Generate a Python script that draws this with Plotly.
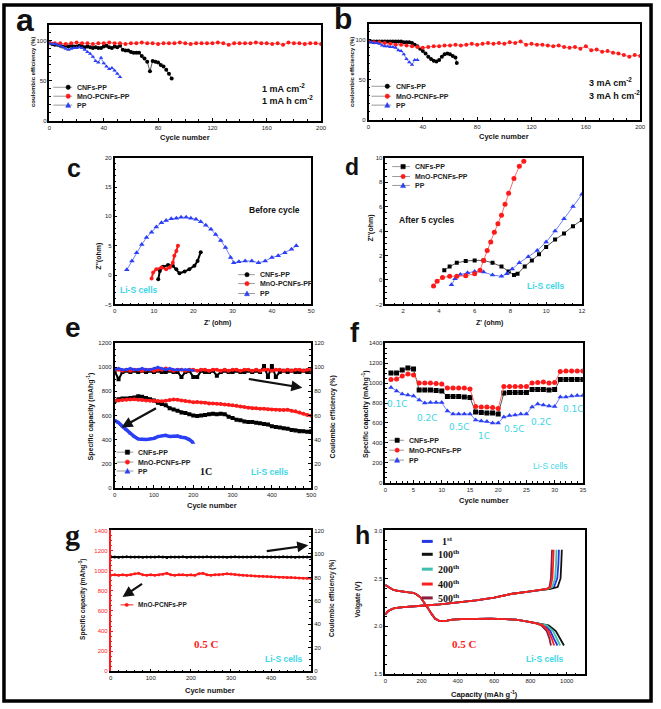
import plotly.graph_objects as go

W, H = 661, 709
def X(p): return p / W
def Y(p): return 1 - p / H

# ---------------- DATA ----------------
# panel a (1 mA cm-2)
a_cnf_cyc = list(range(0, 91, 2))
a_cnf_ce = [97,96,95,95,94,93,94,93,94,93, 93,94,93,92,93,92,91,92,91,91,
            93,94,92,91,93,92,94,89,88,88, 86,85,85,85,81,78,74,62,75,74,
            73,70,68,64,59,53]
a_mno_cyc = list(range(0, 201, 4))
a_mno_ce = [98,97,97,96,97,98,97,97,96,97, 97,98,97,97,96,97,97,98,97,97,
            96,97,97,97,98,97,96,97,97,97, 97,98,97,95,97,97,97,97,98,97,
            97,96,97,95,98,97,97,96,97,97, 96]
a_pp_cyc = list(range(0, 53, 2))
a_pp_ce = [97,96,96,95,94,92,90,89,90,91, 91,92,91,89,86,84,80,75,73,79,
           72,68,65,66,63,59,55]

# panel b (3 mA cm-2)
b_cnf_cyc = list(range(0, 65, 2)) + [65]
b_cnf_ce = [98,98,98,98,98,98,98,98,98,98, 98,98,98,97,97,97,96,94,92,89,
            86,83,79,76,74,73,75,79,82,83, 82,80,78,71]
b_mno_cyc = list(range(0, 201, 4))
b_mno_ce = [98,97,97,96,95,94,94,93,92,91, 90,91,92,92,93,93,94,93,94,95,
            94,95,96,95,96,95,97,96,98,94, 95,94,94,93,92,93,91,90,91,89,
            92,87,88,85,86,84,83,81,79,81, 80]
b_pp_cyc = list(range(0, 37, 2))
b_pp_ce = [97,97,96,96,95,93,92,92,91,91, 90,87,86,82,76,72,69,75,75]

# panel c (EIS before cycle)
c_pp_re = [3.1,4.4,5.6,6.9,8.1,9.4,10.6,11.9,13.1,14.4,15.7,16.9,18.2,19.4,20.7,21.9,
           23.2,24.5,25.7,27.0,28.2,29.5,30.3,31.6,33.2,34.9,36.6,38.3,40.0,41.6,43.3,45.0,46.2]
c_pp_im = [0.9,2.4,3.8,5.2,6.4,7.3,8.2,8.9,9.3,9.6,9.7,9.85,9.85,9.7,9.5,9.1,
           8.5,7.8,6.9,5.9,4.7,3.0,2.1,2.25,2.4,2.4,2.1,2.4,3.0,3.3,3.8,4.4,5.0]
c_cnf_re = [11.1,11.5,12.3,13.6,14.8,15.7,16.5,17.8,19.0,20.3,21.1,21.9]
c_cnf_im = [-0.7,0.7,1.4,1.7,1.6,1.0,0.3,0.6,1.0,1.6,2.4,3.9]
c_mno_re = [9.4,9.8,10.6,11.9,13.1,14.0,14.8,15.2,15.7,16.1]
c_mno_im = [-0.6,0.45,1.0,1.3,1.0,1.3,2.1,3.3,4.1,5.0]

# panel d (EIS after 5 cycles)
d_cnf_re = [4.3,4.6,5.0,5.5,6.0,6.5,7.0,7.5,7.9,8.2,8.4,8.8,9.2,9.6,10.0,10.5,11.0,11.5,12.0]
d_cnf_im = [0.8,1.1,1.4,1.55,1.6,1.6,1.4,1.1,0.7,0.4,0.5,1.1,1.6,2.1,2.7,3.3,3.8,4.4,4.9]
d_mno_re = [3.7,3.9,4.2,4.6,5.0,5.5,6.0,6.3,6.5,6.7,6.9,7.1,7.3,7.5,7.7,7.9,8.2,8.5,8.75]
d_mno_im = [-0.5,-0.1,0.2,0.3,0.3,0.35,0.5,0.8,1.6,2.4,3.1,3.9,4.6,5.3,6.2,7.1,8.3,9.3,9.7]
d_pp_re = [4.7,4.9,5.2,5.6,6.0,6.5,7.0,7.5,7.8,8.1,8.5,9.0,9.5,10.0,10.5,11.0,11.5,12.0]
d_pp_im = [-0.4,0.1,0.45,0.6,0.7,0.65,0.4,0.3,0.5,0.9,1.4,1.9,2.4,3.1,4.0,5.0,6.0,7.0]

# panel e (1C cycling)
e_cyc = list(range(0, 501, 10))
e_cnf_cap = [720,735,740,740,745,750,760,755,745,735, 725,705,695,685,660,650,640,625,620,610,
             600,595,600,605,610,615,610,615,610,590, 580,565,560,550,545,545,540,535,530,525,
             510,505,500,495,490,480,475,470,470,465, 470]
e_mno_cap = [725,725,728,730,732,735,730,728,725,722, 720,720,718,722,728,732,730,725,720,715,
             710,712,708,705,700,700,697,695,692,688, 684,680,675,670,665,660,660,655,655,652,
             650,648,645,645,648,640,635,625,615,605, 598]
e_pp_cyc = list(range(0, 201, 10))
e_pp_cap = [560,540,510,480,450,425,405,400,400,405,410,425,430,435,425,425,430,420,415,400,375]
e_cnf_ce = [97,90,96,97,96,97,96,97,96,97, 96,97,96,96,97,96,96,92,96,97,
            92,92,97,96,96,97,93,96,97,96, 96,97,96,96,97,96,97,96,101,92,
            101,92,96,97,96,97,96,96,97,96, 97]
e_mno_ce = [98,98,97,98,97,98,98,97,98,98, 97,98,98,99,98,97,98,98,97,98,
            98,97,98,98,97,98,98,97,98,97, 98,98,97,98,98,97,98,97,98,98,
            97,98,98,97,98,97,98,98,97,98, 98]
e_pp_ce = [98,99,98,98,99,98,98,99,98,98,99,100,99,98,99,98,98,98,98,98,97]

# panel f (rate capability)
f_cyc = list(range(1, 36))
f_cnf = [1100,1100,1130,1150,1140, 930,930,930,925,920, 865,865,865,860,855,
         710,705,700,700,690, 900,905,905,905,905, 935,935,935,930,935,
         1035,1035,1035,1035,1035]
f_mno = [1035,1040,1070,1090,1080, 1000,1000,1000,995,990, 950,950,950,950,940,
         765,760,760,755,745, 965,965,965,965,965, 1000,1005,1010,1000,1005,
         1115,1120,1120,1120,1120]
f_pp = [955,920,890,880,870, 830,800,805,805,805, 720,690,690,690,690,
        630,620,615,600,600, 660,675,680,690,690, 760,790,780,770,765,
        860,860,870,875,875]
f_rate_labels = ["0.1C", "0.2C", "0.5C", "1C", "0.5C", "0.2C", "0.1C"]
f_rate_x = [2.2, 7.4, 13.2, 17.4, 22.9, 27.7, 33.3]
f_rate_y = [793, 654, 564, 471, 544, 614, 743]

# panel g (0.5C long cycling)
g_cyc = list(range(0, 501, 10))
g_mno_cap = [955,960,955,960,955,960,970,975,960,955, 960,955,960,965,975,960,955,960,960,955,
             960,955,970,975,960,955,960,960,965,970, 968,962,958,955,952,950,948,946,944,942,
             940,938,936,935,933,932,930,928,926,925, 922]
g_ce = [97.5,97.5,97.3,97.5,97.6,97.4,97.5,97.5,97.3,97.5, 97.5,97.4,97.6,97.5,97.0,97.5,97.4,97.5,97.6,97.3,
        97.5,97.5,97.4,97.5,97.6,97.5,97.4,97.5,97.5,97.3, 97.5,97.6,97.5,97.4,97.5,97.5,97.6,97.4,97.5,97.5,
        97.5,97.4,97.5,97.6,97.5,97.5,97.3,97.5,97.5,97.4, 97.5]

# panel h (charge/discharge profiles)
h_dis_cap = [0,10,25,45,70,100,130,155,175,195,215,235,255,275,295,315,340,370,420,500,580,660,720,770,800]
h_dis_v = [2.43,2.42,2.40,2.38,2.37,2.36,2.355,2.35,2.33,2.30,2.25,2.19,2.13,2.08,2.06,2.055,2.06,2.07,
           2.075,2.08,2.08,2.075,2.07,2.055,2.045]
h_chg_cap = [0,10,25,50,100,150,200,300,400,500,600,700,780,840,870]
h_chg_v = [2.12,2.15,2.17,2.19,2.20,2.21,2.215,2.23,2.25,2.27,2.30,2.34,2.36,2.375,2.38]
h_tail_dis_v = [2.03,2.01,1.95,1.87,1.80]
h_tail_chg_v = [2.39,2.41,2.50,2.65,2.80]
h_cycles = ["1", "100", "200", "500", "400"]
h_tail_dis_cap = {"1": [840,880,910,930,949], "100": [850,900,940,965,985],
                  "200": [845,890,925,948,964], "400": [835,870,900,918,931],
                  "500": [830,860,890,905,913]}
h_tail_chg_cap = {"1": [900,930,948,954,957], "100": [910,950,966,970,973],
                  "200": [895,920,936,941,944], "400": [890,910,921,925,928],
                  "500": [888,905,913,916,919]}
h_colors = {"1": "#2437e0", "100": "#111111", "200": "#3fbfae", "400": "#ff1f1f", "500": "#8a1e3c"}
h_legend = [("1", "st"), ("100", "th"), ("200", "th"), ("400", "th"), ("500", "th")]

# ---------------- STYLE ----------------
FONT = "Liberation Sans"
SERIF = "Liberation Serif"
BLACK, RED, BLUE = "#000000", "#ff1a1a", "#2b3ff5"
LBLACK, LRED, LBLUE = "#555555", "#ff6a6a", "#6f80ff"
CYAN = "#3fd6e6"

fig = go.Figure()

def sc(x, y, color, symbol, xa, ya, size=4, lw=1, lc=None):
    fig.add_trace(go.Scatter(x=x, y=y, mode="lines+markers",
                             marker=dict(color=color, symbol=symbol, size=size, line=dict(width=0)),
                             line=dict(color=lc or color, width=lw),
                             xaxis=xa, yaxis=ya, showlegend=False, hoverinfo="skip"))

# a
sc(a_cnf_cyc, a_cnf_ce, BLACK, "circle", "x", "y", 4, 1, LBLACK)
sc(a_mno_cyc, a_mno_ce, RED, "circle", "x", "y", 4, 1, LRED)
sc(a_pp_cyc, a_pp_ce, BLUE, "triangle-up", "x", "y", 4, 1, LBLUE)
# b
sc(b_cnf_cyc, b_cnf_ce, BLACK, "circle", "x2", "y2", 4, 1, LBLACK)
sc(b_mno_cyc, b_mno_ce, RED, "circle", "x2", "y2", 4, 1, LRED)
sc(b_pp_cyc, b_pp_ce, BLUE, "triangle-up", "x2", "y2", 4, 1, LBLUE)
# c
sc(c_pp_re, c_pp_im, BLUE, "triangle-up", "x3", "y3", 5, 1, LBLUE)
sc(c_cnf_re, c_cnf_im, BLACK, "circle", "x3", "y3", 4, 2, BLACK)
sc(c_mno_re, c_mno_im, RED, "circle", "x3", "y3", 4, 2, RED)
# d
sc(d_cnf_re, d_cnf_im, BLACK, "square", "x4", "y4", 4, 1, LBLACK)
sc(d_pp_re, d_pp_im, BLUE, "triangle-up", "x4", "y4", 5, 1, LBLUE)
sc(d_mno_re, d_mno_im, RED, "circle", "x4", "y4", 5, 1, LRED)
# e
sc(e_cyc, e_cnf_ce, BLACK, "square", "x5", "y6", 4, 2, BLACK)
sc(e_cyc, e_mno_ce, RED, "circle", "x5", "y6", 4, 2.5, RED)
sc(e_pp_cyc, e_pp_ce, BLUE, "triangle-up", "x5", "y6", 4, 2.5, BLUE)
sc(e_cyc, e_cnf_cap, BLACK, "square", "x5", "y5", 4, 2.5, BLACK)
sc(e_cyc, e_mno_cap, RED, "circle", "x5", "y5", 4, 2.5, RED)
sc(e_pp_cyc, e_pp_cap, BLUE, "triangle-up", "x5", "y5", 4, 3.5, BLUE)
# f
sc(f_cyc, f_cnf, BLACK, "square", "x6", "y7", 5, 1, LBLACK)
sc(f_cyc, f_mno, RED, "circle", "x6", "y7", 5, 1, LRED)
sc(f_cyc, f_pp, BLUE, "triangle-up", "x6", "y7", 5, 1, LBLUE)
# g
sc(g_cyc, g_ce, BLACK, "circle", "x7", "y9", 3, 2, BLACK)
sc(g_cyc, g_mno_cap, RED, "circle", "x7", "y8", 3, 2, RED)
# h
for cy in h_cycles:
    xs = h_dis_cap + h_tail_dis_cap[cy] + [None] + h_chg_cap + h_tail_chg_cap[cy]
    ys = h_dis_v + h_tail_dis_v + [None] + h_chg_v + h_tail_chg_v
    fig.add_trace(go.Scatter(x=xs, y=ys, mode="lines", line=dict(color=h_colors[cy], width=1.8),
                             xaxis="x8", yaxis="y10", showlegend=False, hoverinfo="skip"))

# ---------------- AXES ----------------
def axis(dom, rng, dtick, anchor, tickvals=None, color="black", mirror=True, fmt=None, **kw):
    d = dict(domain=dom, range=rng, dtick=dtick, anchor=anchor, showline=True, linecolor=color,
             linewidth=1.5, mirror=mirror, ticks="inside", ticklen=3, tickcolor=color, tickwidth=1,
             showgrid=False, zeroline=False, tickfont=dict(size=6, family=FONT, color="#222" if color == "black" else color),
             minor=dict(ticks="inside", ticklen=2, tickcolor=color))
    if tickvals is not None:
        d["tickvals"] = tickvals
    if fmt:
        d["tickformat"] = fmt
    d.update(kw)
    return d

def xd(a, b): return [X(a), X(b)]
def yd(top, bot): return [Y(bot), Y(top)]

layout = dict(
    width=W, height=H, margin=dict(l=0, r=0, t=0, b=0),
    paper_bgcolor="white", plot_bgcolor="white",
    xaxis=axis(xd(48, 323), [0, 200], 40, "y"),
    yaxis=axis(yd(22, 119), [0, 120], 50, "x"),
    xaxis2=axis(xd(371, 646), [0, 200], 40, "y2"),
    yaxis2=axis(yd(21, 118), [0, 120], 50, "x2"),
    xaxis3=axis(xd(114, 313), [0, 50], 10, "y3"),
    yaxis3=axis(yd(156, 304), [-5, 20], 5, "x3"),
    xaxis4=axis(xd(388, 587), [1, 12], 2, "y4", tickvals=[2, 4, 6, 8, 10, 12]),
    yaxis4=axis(yd(156, 304), [-2, 10], 2, "x4"),
    xaxis5=axis(xd(114, 313), [0, 500], 100, "y5"),
    yaxis5=axis(yd(343, 489), [0, 1200], 200, "x5"),
    yaxis6=axis(yd(343, 489), [0, 120], 20, "x5", overlaying="y5", side="right", mirror=False),
    xaxis6=axis(xd(388, 588), [0, 35], 5, "y7"),
    yaxis7=axis(yd(343, 484), [0, 1400], 200, "x6"),
    xaxis7=axis(xd(110, 313), [0, 500], 100, "y8"),
    yaxis8=axis(yd(532, 674), [0, 1400], 200, "x7", color=RED, mirror=False),
    yaxis9=axis(yd(532, 674), [0, 120], 20, "x7", overlaying="y8", side="right", mirror=False),
    xaxis8=axis(xd(388, 590), [0, 1100], 200, "y10", tickvals=[0, 200, 400, 600, 800, 1000]),
    yaxis10=axis(yd(532, 677), [1.5, 3.0], 0.5, "x8", fmt=".1f"),
)

shapes = []
ann = []

def txt(s, x, y, size=7, color="#111", family=FONT, xanchor="center", angle=0, bold=True, yanchor="middle"):
    ann.append(dict(text=("<b>%s</b>" % s) if bold else s, x=X(x), y=Y(y), xref="paper", yref="paper",
                    showarrow=False, xanchor=xanchor, yanchor=yanchor, textangle=angle,
                    font=dict(size=size, color=color, family=family)))

def leg(x0, x1, xm, y, color, sym, label, size=7, r=2.2):
    shapes.append(dict(type="line", xref="paper", yref="paper", x0=X(x0), x1=X(x1), y0=Y(y), y1=Y(y),
                       line=dict(color="#9a9a9a", width=1)))
    if sym == "circle":
        shapes.append(dict(type="circle", xref="paper", yref="paper", x0=X(xm - r), x1=X(xm + r),
                           y0=Y(y + r), y1=Y(y - r), fillcolor=color, line=dict(color=color, width=0.5)))
    elif sym == "square":
        shapes.append(dict(type="rect", xref="paper", yref="paper", x0=X(xm - r), x1=X(xm + r),
                           y0=Y(y + r), y1=Y(y - r), fillcolor=color, line=dict(color=color, width=0.5)))
    else:
        p = "M %f,%f L %f,%f L %f,%f Z" % (X(xm - r - 0.4), Y(y + r), X(xm + r + 0.4), Y(y + r), X(xm), Y(y - r - 0.4))
        shapes.append(dict(type="path", xref="paper", yref="paper", path=p, fillcolor=color,
                           line=dict(color=color, width=0.5)))
    txt(label, x1 + 3, y, size=size, color="#222", xanchor="left")

# outer frame
shapes.append(dict(type="rect", xref="paper", yref="paper", x0=X(2), x1=X(657), y0=Y(704), y1=Y(2),
                   line=dict(color="black", width=3.5)))

# panel letters
txt("a", 23, 17, 32)
txt("b", 345, 16, 30)
txt("c", 73, 166, 25)
txt("d", 354, 165, 23)
txt("e", 72, 327, 28)
txt("f", 357, 333, 27)
txt("g", 71, 536, 30, family=SERIF)
txt("h", 365, 537, 25)

# panel a
txt("coulombic efficiency (%)", 32, 70, 6, angle=-90)
txt("Cycle number", 185, 136, 7.5)
leg(52, 71, 67, 85, BLACK, "circle", "CNFs-PP")
leg(52, 71, 67, 94, RED, "circle", "MnO-PCNFs-PP")
leg(52, 71, 67, 103, BLUE, "triangle", "PP")
txt("1 mA cm<sup>-2</sup>", 261, 86, 9, xanchor="left")
txt("1 mA h cm<sup>-2</sup>", 261, 98, 9, xanchor="left")

# panel b
txt("coulombic efficiency (%)", 355, 70, 6, angle=-90)
txt("Cycle number", 508, 135, 7.5)
leg(374, 394, 390, 84, BLACK, "circle", "CNFs-PP")
leg(374, 394, 390, 94, RED, "circle", "MnO-PCNFs-PP")
leg(374, 394, 390, 103, BLUE, "triangle", "PP")
txt("3 mA cm<sup>-2</sup>", 592, 80, 9, xanchor="left")
txt("3 mA h cm<sup>-2</sup>", 592, 93, 9, xanchor="left")

# panel c
txt("Z''(ohm)", 98, 255, 7, angle=-90)
txt("Z' (ohm)", 218, 323, 7)
txt("Before cycle", 276, 209, 8.5)
txt("Li-S cells", 139, 289, 8.5, color=CYAN)
leg(239, 256, 248, 274, BLACK, "circle", "CNFs-PP")
leg(239, 256, 248, 283, RED, "circle", "MnO-PCNFs-PP")
leg(239, 256, 248, 293, BLUE, "triangle", "PP")

# panel d
txt("Z''(ohm)", 374, 227, 7, angle=-90)
txt("Z' (ohm)", 493, 323, 7)
txt("After 5 cycles", 430, 219, 8.5)
txt("Li-S cells", 551, 285, 8.5, color=CYAN)
leg(395, 413, 406, 165, BLACK, "square", "CNFs-PP")
leg(395, 413, 406, 175, RED, "circle", "MnO-PCNFs-PP")
leg(395, 413, 406, 184, BLUE, "triangle", "PP")

# panel e
txt("Specific capacity (mAhg<sup>-1</sup>)", 90, 417, 7, angle=-90)
txt("Cycle number", 213, 507, 7.5)
leg(116, 133, 127, 453, BLACK, "square", "CNFs-PP")
leg(116, 133, 127, 463, RED, "circle", "MnO-PCNFs-PP")
leg(116, 133, 127, 472, BLUE, "triangle", "PP")
txt("1C", 207, 472, 10, family=SERIF)
txt("Li-S cells", 271, 473, 8.5, color=CYAN)
ann.append(dict(x=X(121), y=Y(428), ax=36, ay=-20, xref="paper", yref="paper", showarrow=True,
                arrowhead=2, arrowsize=1, arrowwidth=2.2, arrowcolor="#111", text=""))
ann.append(dict(x=X(304), y=Y(388), ax=-55, ay=-9, xref="paper", yref="paper", showarrow=True,
                arrowhead=2, arrowsize=1, arrowwidth=2.2, arrowcolor="#111", text=""))

# panel f
txt("Coulombic efficiency (%)", 336, 417, 7, angle=-90)
txt("Specific capacity (mAhg<sup>-1</sup>)", 368, 415, 7, angle=-90)
txt("Cycle number", 488, 502, 7.5)
leg(392, 407, 400, 441, BLACK, "square", "CNFs-PP")
leg(392, 407, 400, 451, RED, "circle", "MnO-PCNFs-PP")
leg(392, 407, 400, 461, BLUE, "triangle", "PP")
txt("Li-S cells", 555, 467, 8.5, color=CYAN, bold=False)
for lab, lx, ly in zip(f_rate_labels, f_rate_x, f_rate_y):
    ann.append(dict(text=lab, x=lx, y=ly, xref="x6", yref="y7", showarrow=False,
                    font=dict(size=9, color=CYAN, family="DejaVu Sans")))

# panel g
txt("Specific capacity (mAhg<sup>-1</sup>)", 82, 602, 6.5, angle=-90)
txt("Cycle number", 211, 693, 7.5)
shapes.append(dict(type="line", xref="paper", yref="paper", x0=X(120), x1=X(133), y0=Y(607), y1=Y(607),
                   line=dict(color=RED, width=1)))
shapes.append(dict(type="circle", xref="paper", yref="paper", x0=X(124.5), x1=X(128), y0=Y(608.7), y1=Y(605.3),
                   fillcolor=RED, line=dict(color=RED, width=0.5)))
txt("MnO-PCNFs-PP", 136, 607, 6.5, color="#222", xanchor="left")
txt("0.5 C", 207, 646, 11, color=RED, family=SERIF)
txt("Li-S cells", 285, 662, 8.5, color=CYAN)
ann.append(dict(x=X(310), y=Y(547), ax=-43, ay=6, xref="paper", yref="paper", showarrow=True,
                arrowhead=2, arrowsize=1, arrowwidth=2.2, arrowcolor="#111", text=""))
ann.append(dict(x=X(122), y=Y(599), ax=21, ay=-14, xref="paper", yref="paper", showarrow=True,
                arrowhead=2, arrowsize=1, arrowwidth=2.2, arrowcolor="#111", text=""))

# panel h
txt("Coulombic efficiency (%)", 334, 600, 6.5, angle=-90)
txt("Volgate (V)", 360, 602, 7, angle=-90)
txt("Capacity (mAh g<sup>-1</sup>)", 488, 697, 7.5)
for i, (cy, sup) in enumerate(h_legend):
    yy = [543, 556, 571, 586, 600][i]
    shapes.append(dict(type="line", xref="paper", yref="paper", x0=X(425), x1=X(436), y0=Y(yy), y1=Y(yy),
                       line=dict(color=h_colors[cy], width=3)))
    txt("%s<sup>%s</sup>" % (cy, sup), 439 if cy != "1" else 443, yy, 10, color="#111", family=SERIF, xanchor="left")
txt("0.5 C", 468, 646, 11, color=RED, family=SERIF)
txt("Li-S cells", 550, 662, 8.5, color=CYAN)

layout["shapes"] = shapes
layout["annotations"] = ann
fig.update_layout(**layout)
fig.write_html("out.html")
